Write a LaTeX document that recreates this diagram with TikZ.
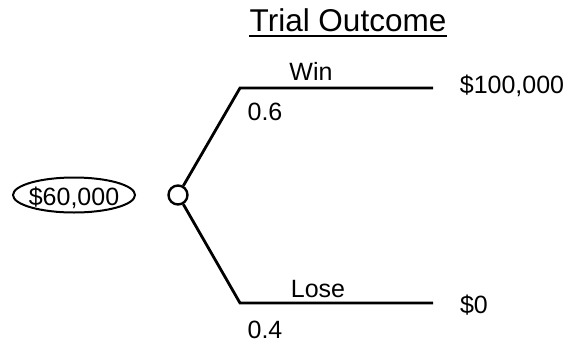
\documentclass[tikz,border=0pt]{standalone}
\usepackage{fontspec}
\setmainfont{Liberation Sans}
\usepackage{tikz}
\usetikzlibrary{shapes.geometric}

\tikzset{
  lbl/.style={inner sep=0pt, anchor=base, font=\fontsize{25}{30}\selectfont},
  branch/.style={line width=2.8pt}
}

\begin{document}
\begin{tikzpicture}[x=1pt,y=-1pt]
                \useasboundingbox (0,0) rectangle (571,343);
                % heading
                \node[lbl, font=\fontsize{31.5}{36}\selectfont] (title) at (348,31) {Trial Outcome};
                \draw[line width=2pt] ([yshift=-4.5pt]title.base west) -- ([yshift=-4.5pt]title.base east);
                % expected value and chance node
                \node[draw, ellipse, line width=2pt, inner sep=0pt, minimum width=122pt, minimum height=35pt] (ev) at (74,195) {};
                \node[lbl] at (74,205) {\$60,000};
                \node[draw, circle, line width=2.4pt, inner sep=0pt, minimum size=19pt] (chance) at (178,195) {};
                \coordinate (win) at (240,88);
                \coordinate (winend) at (433,88);
                \coordinate (lose) at (240,303);
                \coordinate (loseend) at (433,303);
                \draw[branch] (chance) -- (win) -- (winend);
                \draw[branch] (chance) -- (lose) -- (loseend);
                % branch labels
                \node[lbl] (winlbl) at (311,80) {Win};
                \node[lbl] (winp) at (265,120) {0.6};
                \node[lbl] (winpay) at (512,93) {\$100,000};
                \node[lbl] (loselbl) at (318,297) {Lose};
                \node[lbl] (losep) at (265,338) {0.4};
                \node[lbl] (losepay) at (474,313) {\$0};
            \end{tikzpicture}
\end{document}
